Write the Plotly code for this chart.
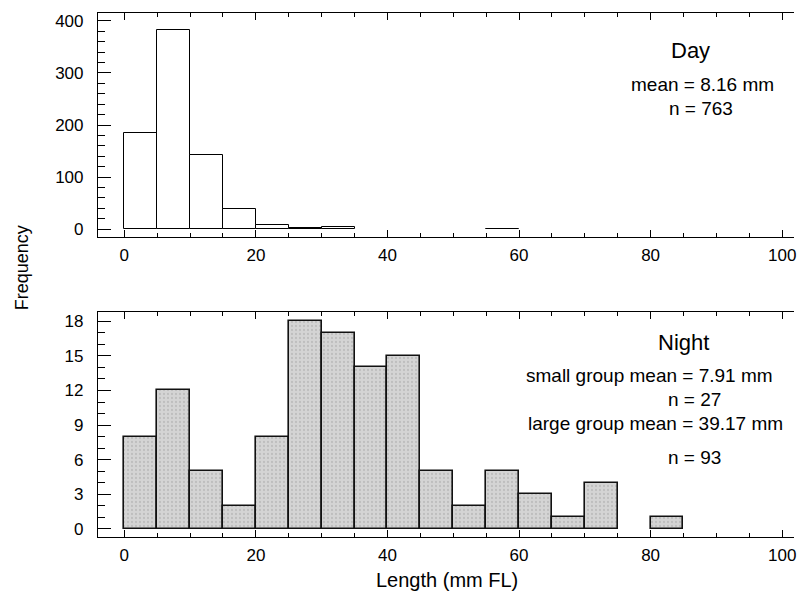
import plotly.graph_objects as go

# ---- data ----
bin_width = 5
day_bin_left = [0, 5, 10, 15, 20, 25, 30, 35, 40, 45, 50, 55]
day_counts = [185, 382, 143, 38, 8, 2, 4, 0, 0, 0, 0, 1]
night_bin_left = [0, 5, 10, 15, 20, 25, 30, 35, 40, 45, 50, 55, 60, 65, 70, 75, 80]
night_counts = [8, 12, 5, 2, 8, 18, 17, 14, 15, 5, 2, 5, 3, 1, 4, 0, 1]

x_ticks = [0, 20, 40, 60, 80, 100]
day_y_ticks = [0, 100, 200, 300, 400]
night_y_ticks = [0, 3, 6, 9, 12, 15, 18]

FONT = "Liberation Sans, Arial, Helvetica, sans-serif"

def nz(lefts, counts):
    xs, ys = [], []
    for l, c in zip(lefts, counts):
        if c > 0:
            xs.append(l + bin_width / 2)
            ys.append(c)
    return xs, ys

fig = go.Figure()
dx, dy = nz(day_bin_left, day_counts)
fig.add_trace(go.Bar(x=dx, y=dy, width=bin_width, xaxis="x", yaxis="y",
                     marker=dict(color="white", line=dict(color="black", width=1)),
                     showlegend=False))
nx, ny = nz(night_bin_left, night_counts)
fig.add_trace(go.Bar(x=nx, y=ny, width=bin_width, xaxis="x2", yaxis="y2",
                     marker=dict(color="#d2d2d2", line=dict(color="#111111", width=1.6),
                                 pattern=dict(shape=".", fgcolor="#a8a8a8", bgcolor="#d4d4d4",
                                              size=4, solidity=0.25)),
                     showlegend=False))

L, R, T, B = 98, 796, 13, 537
W, H = 805, 609
xrange = [-4.0, 101.8]
top_dom = [(B - 237) / (B - T), 1.0]
bot_dom = [0.0, (B - 312) / (B - T)]

def xaxis(anchor):
    return dict(range=xrange, domain=[0, 1], anchor=anchor, tickvals=x_ticks,
                ticks="inside", ticklen=7, tickwidth=1, tickcolor="black",
                minor=dict(dtick=5, tick0=0, ticks="inside", ticklen=4, tickcolor="black"),
                showline=True, linecolor="black", linewidth=1.2, mirror="ticks",
                showgrid=False, zeroline=False, ticklabelstandoff=2,
                tickfont=dict(family=FONT, size=17, color="black"))

def yaxis(anchor, dom, rng, ticks, minor_dt):
    return dict(range=rng, domain=dom, anchor=anchor, tickvals=ticks,
                ticks="inside", ticklen=13, tickwidth=1, tickcolor="black",
                minor=dict(dtick=minor_dt, tick0=0, ticks="inside", ticklen=7, tickcolor="black"),
                showline=True, linecolor="black", linewidth=1.2,
                showgrid=False, zeroline=False, ticklabelstandoff=10,
                tickfont=dict(family=FONT, size=17, color="black"))

def yright(overlay, anchor, rng, ticks, minor_dt):
    return dict(range=rng, overlaying=overlay, anchor=anchor, side="right", tickvals=ticks,
                ticks="outside", ticklen=9, tickwidth=1, tickcolor="black",
                minor=dict(dtick=minor_dt, tick0=0, ticks="outside", ticklen=5, tickcolor="black"),
                showline=True, linecolor="black", linewidth=1.2, showticklabels=False,
                showgrid=False, zeroline=False)

top_rng = [-15, 415]
bot_rng = [-0.7, 18.8]

fig.update_layout(
    width=W, height=H,
    margin=dict(l=L, r=W - R, t=T, b=H - B),
    paper_bgcolor="white", plot_bgcolor="white",
    bargap=0,
    xaxis=xaxis("y"),
    yaxis=yaxis("x", top_dom, top_rng, day_y_ticks, 20),
    xaxis2=xaxis("y2"),
    yaxis2=yaxis("x2", bot_dom, bot_rng, night_y_ticks, 1),
    yaxis3=dict(yright("y", "x", top_rng, day_y_ticks, 20), domain=top_dom),
    yaxis4=dict(yright("y2", "x2", bot_rng, night_y_ticks, 1), domain=bot_dom),
    font=dict(family=FONT, color="black"),
)

def px2paper(px, py):
    return (px - L) / (R - L), (B - py) / (B - T)

texts = [
    ("Day", 692, 51, 22),
    ("mean = 8.16 mm", 704, 84, 19),
    ("n = 763", 703, 108, 19),
    ("Night", 685, 342, 22),
    ("small group mean = 7.91 mm", 651, 375, 19),
    ("n = 27", 696, 399, 19),
    ("large group mean = 39.17 mm", 657, 423, 19),
    ("n = 93", 696, 457, 19),
]
for t, px, py, s in texts:
    ax_, ay_ = px2paper(px, py)
    fig.add_annotation(text=t, x=ax_, y=ay_, xref="paper", yref="paper",
                       showarrow=False, xanchor="center", yanchor="middle",
                       font=dict(family=FONT, size=s, color="black"))

fx, fy = px2paper(22, 268)
fig.add_annotation(text="Frequency", x=fx, y=fy, xref="paper", yref="paper",
                   showarrow=False, textangle=-90, xanchor="center", yanchor="middle",
                   font=dict(family=FONT, size=18, color="black"))
lx, ly = px2paper(448, 580)
fig.add_annotation(text="Length (mm FL)", x=lx, y=ly, xref="paper", yref="paper",
                   showarrow=False, xanchor="center", yanchor="middle",
                   font=dict(family=FONT, size=20, color="black"))

fig.write_html("out.html")
